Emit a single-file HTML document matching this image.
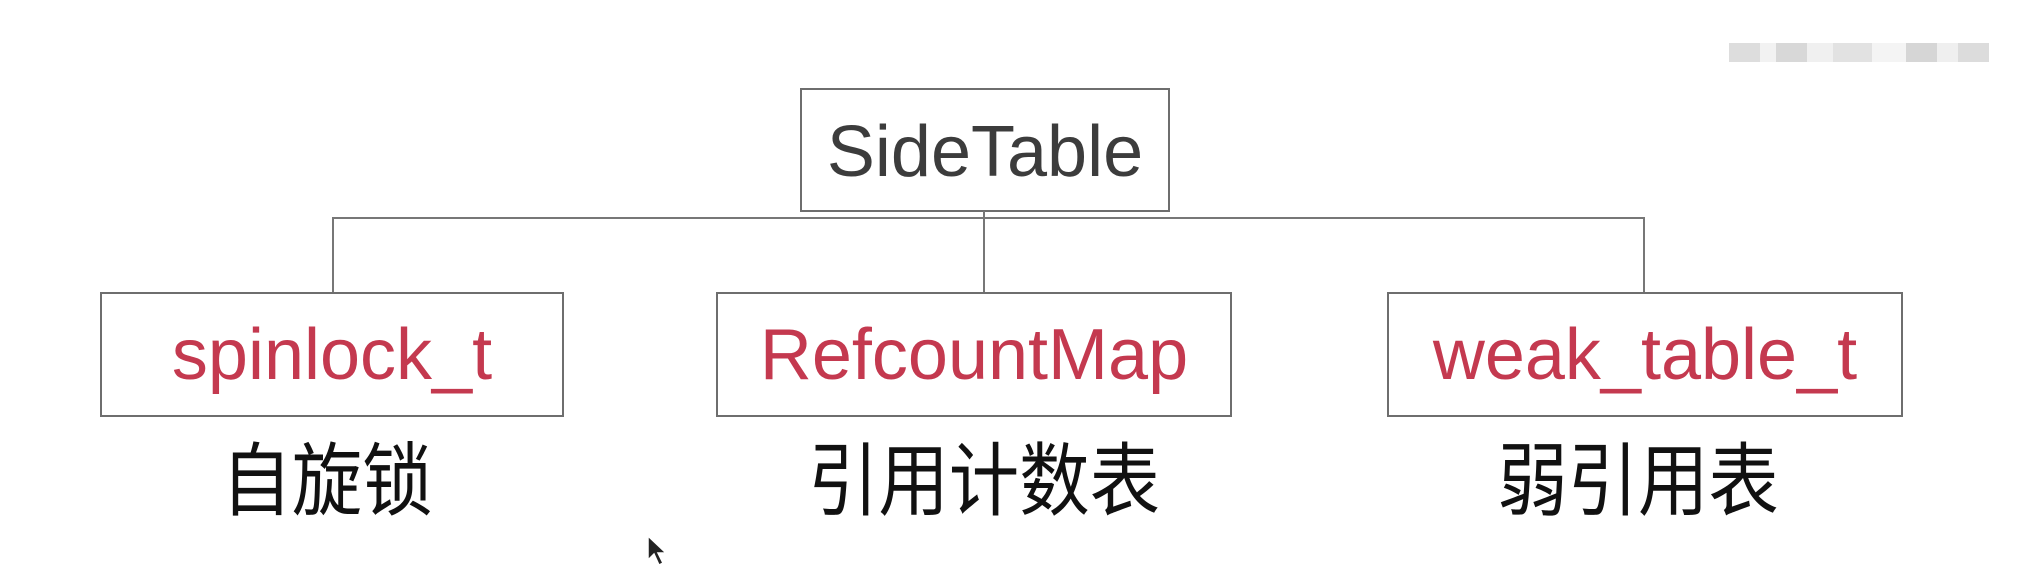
<!DOCTYPE html>
<html><head><meta charset="utf-8"><style>
body{margin:0;width:2038px;height:588px;background:#fff;position:relative;overflow:hidden;font-family:"Liberation Sans","Noto Sans CJK SC",sans-serif}
.b{position:absolute;border:2px solid #6e6e6e;box-sizing:border-box;display:flex;align-items:center;justify-content:center}
.r{color:#c4394f;font-size:72px}
.l{position:absolute;background:#777}
.c{position:absolute;font-size:80px;color:#111;text-align:center;line-height:1;transform:scaleX(0.88)}
</style></head><body>
<div style="position:absolute;left:1729px;top:43px;width:260px;height:19px;background:linear-gradient(90deg,#ddd 0 12%,#f2f2f2 12% 18%,#d8d8d8 18% 30%,#f0f0f0 30% 40%,#e2e2e2 40% 55%,#f4f4f4 55% 68%,#d6d6d6 68% 80%,#efefef 80% 88%,#dcdcdc 88%)"></div>
<div class="b" style="left:800px;top:88px;width:370px;height:124px;font-size:72px;color:#3c3c3c;padding-top:4px">SideTable</div>
<div class="l" style="left:333px;top:217px;width:1312px;height:2px"></div>
<div class="l" style="left:983px;top:211px;width:2px;height:82px"></div>
<div class="l" style="left:332px;top:217px;width:2px;height:76px"></div>
<div class="l" style="left:1643px;top:217px;width:2px;height:76px"></div>
<div class="b r" style="left:100px;top:292px;width:464px;height:125px">spinlock_t</div>
<div class="b r" style="left:716px;top:292px;width:516px;height:125px">RefcountMap</div>
<div class="b r" style="left:1387px;top:292px;width:516px;height:125px">weak_table_t</div>
<div class="c" style="left:127px;top:442px;width:400px">自旋锁</div>
<div class="c" style="left:774px;top:442px;width:420px">引用计数表</div>
<div class="c" style="left:1438px;top:442px;width:400px">弱引用表</div>
<svg style="position:absolute;left:646px;top:534px" width="24" height="34"><path d="M2 2 L2 26 L8 20 L13 31 L17 29 L12 19 L20 19 Z" fill="#222" stroke="#fff" stroke-width="1.5"/></svg>
</body></html>
